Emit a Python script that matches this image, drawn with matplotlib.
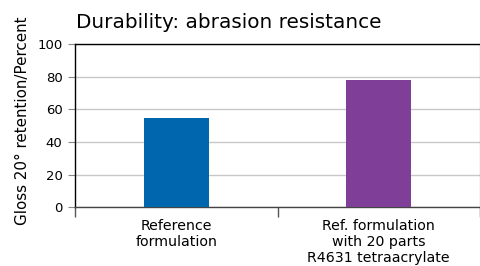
import matplotlib
matplotlib.use('Agg')
import matplotlib.pyplot as plt
import numpy as np

plt.rcParams['font.family'] = ['DejaVu Sans']

categories = ["Reference\nformulation", "Ref. formulation\nwith 20 parts\nR4631 tetraacrylate"]
values = [55, 78]
colors = ['#0066ad', '#7f3f98']
yticks = [0, 20, 40, 60, 80, 100]

fig = plt.figure(figsize=(4.81, 2.66), dpi=100)
ax = fig.add_axes([0.156, 0.22, 0.842, 0.615])

x = np.arange(len(categories))
ax.bar(x, values, 0.32, color=colors, zorder=3)
ax.set_xlim(-0.5, 1.5)
ax.set_ylim(0, 100)
ax.set_yticks(yticks)
ax.yaxis.grid(True, color='#c8c8c8', linewidth=1, zorder=0)
ax.tick_params(axis='y', length=5, width=0.8, labelsize=9.5, pad=4, color='#888888')

# category labels without ticks, boundary ticks below
ax.set_xticks(x)
ax.set_xticklabels(categories, fontsize=10.2, linespacing=1.18)
ax.tick_params(axis='x', length=0, pad=8)
ax.set_xticks([-0.5, 0.5, 1.5], minor=True)
ax.tick_params(axis='x', which='minor', length=7, width=1, color='#555555')

for s in ['top', 'left']:
    ax.spines[s].set_color('black')
    ax.spines[s].set_linewidth(1)
ax.spines['right'].set_color('#333333')
ax.spines['right'].set_linewidth(0.8)
ax.spines['bottom'].set_color('#444444')
ax.spines['bottom'].set_linewidth(1)

ax.set_ylabel("Gloss 20° retention/Percent", fontsize=10.9)
ax.yaxis.set_label_coords(-0.111, 0.53)
fig.text(0.158, 0.895, "Durability: abrasion resistance", fontsize=14.4, va='baseline', ha='left')

fig.savefig('out.png', dpi=100)
